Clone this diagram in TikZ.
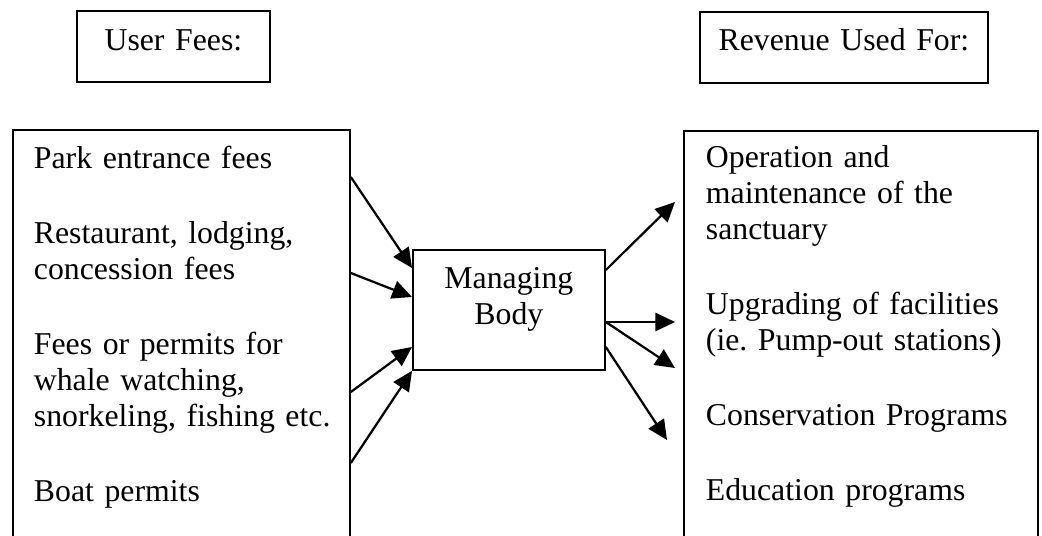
\documentclass[tikz,border=0pt]{standalone}
\usepackage{fontspec}
\setmainfont{Liberation Serif}
\usetikzlibrary{arrows.meta,calc}

\newlength\px
\setlength\px{0.025cm}

\tikzset{
  box/.style={draw, line width=1.3pt, inner sep=0pt, font=\fontsize{22.6}{25.6}\selectfont\frenchspacing},
  headbox/.style={box, anchor=north west, align=center},
  listbox/.style={box, anchor=north west, align=left, text depth=420\px},
  flow/.style={line width=1.6pt, -{Triangle[length=14pt, width=13pt]}},
}

\begin{document}
\begin{tikzpicture}[x=0.025cm, y=-0.025cm]
  \useasboundingbox (0,0) rectangle (1042,536);
  \clip (0,0) rectangle (1042,536);

  \node [headbox, text width=193\px, text height=40\px, text depth=31\px] (userfees) at (76,10) {User Fees:};
  \node [headbox, text width=288\px, text height=39\px, text depth=32\px] (revenue) at (699,11) {Revenue Used For:};

  \node [listbox, inner xsep=21\px, text width=295\px, text height=39\px] (fees) at (12,129)
    {Park entrance fees\\[39\px]
     Restaurant, lodging,\\concession fees\\[39\px]
     Fees or permits for\\whale watching,\\\mbox{snorkeling, fishing etc.}\\[39\px]
     Boat permits};

  \node [headbox, text width=192\px, text height=39\px, text depth=81\px] (body) at (412,249) {Managing\\Body};

  \node [listbox, inner xsep=22\px, text width=310\px, text height=37\px] (uses) at (683,130)
    {Operation and\\maintenance of the\\sanctuary\\[39\px]
     Upgrading of facilities\\(ie. Pump-out stations)\\[39\px]
     Conservation Programs\\[39\px]
     Education programs};

  % fees in
  \draw [flow] ($(fees.north east)+(0,48)$) -- ($(body.north west)+(0,19)$) ;
  \draw [flow] ($(fees.north east)+(0,144)$) -- ($(body.north west)+(0,48)$) ;
  \draw [flow] ($(fees.north east)+(0,263)$) -- ($(body.north west)+(0,98)$) ;
  \draw [flow] ($(fees.north east)+(0,334)$) -- (body.south west) ;

  % revenue out
  \draw [flow] ($(body.north east)+(0,21)$) -- ($(uses.north west)+(-8,72)$) ;
  \draw [flow] ($(body.north east)+(0,73)$) -- ($(uses.north west)+(-8,192)$) ;
  \draw [flow] ($(body.north east)+(0,73)$) -- ($(uses.north west)+(-8,238)$) ;
  \draw [flow] ($(body.north east)+(0,98)$) -- ($(uses.north west)+(-16,310)$) ;
\end{tikzpicture}
\end{document}
